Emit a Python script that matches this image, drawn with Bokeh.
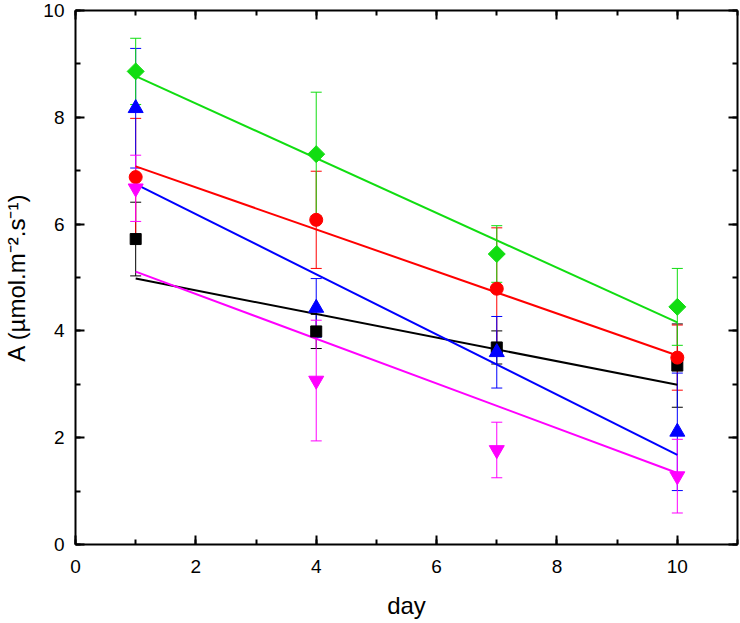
import numpy as np
from bokeh.plotting import figure
from bokeh.models import (ColumnDataSource, Whisker, TeeHead, LinearAxis,
                          SingleIntervalTicker, Range1d, CustomJSTickFormatter)
from bokeh.embed import file_html
from bokeh.resources import INLINE

# ---- data ----
days = [1, 4, 7, 10]

black_y = [5.72, 3.99, 3.69, 3.35]
black_err = [0.69, 0.32, 0.31, 0.78]
red_y = [6.88, 6.08, 4.79, 3.50]
red_err = [1.10, 0.91, 1.14, 0.61]
blue_y = [8.17, 4.43, 3.60, 2.11]
blue_err = [1.12, 0.55, 0.67, 1.10]
green_y = [8.86, 7.31, 5.44, 4.45]
green_err = [0.62, 1.16, 0.53, 0.72]
magenta_y = [6.67, 3.07, 1.77, 1.28]
magenta_err = [0.62, 1.13, 0.52, 0.69]

# fitted line end values at day 1 and day 10
fit_days = [1, 10]
black_fit = [4.98, 2.99]
red_fit = [7.08, 3.54]
blue_fit = [6.75, 1.68]
green_fit = [8.77, 4.16]
magenta_fit = [5.11, 1.34]

FONT = "Liberation Sans"

p = figure(width=740, height=623, output_backend="svg", toolbar_location=None,
           x_range=Range1d(0, 11), y_range=Range1d(0, 10),
           min_border_left=74, min_border_right=3, min_border_top=10,
           min_border_bottom=79)
p.outline_line_color = None
p.grid.visible = False
p.background_fill_color = "white"

series = [
    ("black", black_y, black_err, black_fit, "square", 11, 0.0),
    ("#ff0000", red_y, red_err, red_fit, "circle", 13, 0.0),
    ("#0000ff", blue_y, blue_err, blue_fit, "triangle", 15, 0.0),
    ("#11dd11", green_y, green_err, green_fit, "square", 12, np.pi / 4),
    ("#ff00ff", magenta_y, magenta_err, magenta_fit, "inverted_triangle", 15, 0.0),
]

# fit lines
for color, ys, errs, fit, marker, size, ang in series:
    p.line(fit_days, fit, line_color=color, line_width=2)

# error bars
for color, ys, errs, fit, marker, size, ang in series:
    src = ColumnDataSource(dict(
        x=days,
        lower=[y - e for y, e in zip(ys, errs)],
        upper=[y + e for y, e in zip(ys, errs)],
    ))
    w = Whisker(base="x", lower="lower", upper="upper", source=src,
                line_color=color, line_width=1,
                lower_head=TeeHead(size=11, line_color=color, line_width=1),
                upper_head=TeeHead(size=11, line_color=color, line_width=1))
    p.add_layout(w)

# markers
for color, ys, errs, fit, marker, size, ang in series:
    p.scatter(days, ys, marker=marker, size=size, angle=ang,
              fill_color=color, line_color=color, line_width=1)


def style_axis(ax, show_labels):
    ax.axis_line_width = 2
    ax.axis_line_color = "black"
    ax.major_tick_line_width = 2
    ax.minor_tick_line_width = 2
    ax.major_tick_in = 9
    ax.major_tick_out = 0
    ax.minor_tick_in = 5
    ax.minor_tick_out = 0
    ax.major_tick_line_color = "black"
    ax.minor_tick_line_color = "black"
    if show_labels:
        ax.major_label_text_font = FONT
        ax.major_label_text_font_size = "19px"
        ax.major_label_text_color = "black"
        ax.axis_label_text_font = FONT
        ax.axis_label_text_font_size = "24px"
        ax.axis_label_text_font_style = "normal"
        ax.axis_label_text_color = "black"
    else:
        ax.formatter = CustomJSTickFormatter(code="return ''")
        ax.major_label_standoff = 0


xa = p.xaxis[0]
xa.ticker = SingleIntervalTicker(interval=2, num_minor_ticks=2)
xa.axis_label = "day"
style_axis(xa, True)
xa.major_label_standoff = 15
xa.axis_label_standoff = 16

ya = p.yaxis[0]
ya.ticker = SingleIntervalTicker(interval=2, num_minor_ticks=2)
ya.axis_label = "A (µmol.m⁻².s⁻¹)"
style_axis(ya, True)
ya.major_label_standoff = 11
ya.axis_label_standoff = 10

top = LinearAxis(ticker=SingleIntervalTicker(interval=2, num_minor_ticks=2))
style_axis(top, False)
p.add_layout(top, "above")
right = LinearAxis(ticker=SingleIntervalTicker(interval=2, num_minor_ticks=2))
style_axis(right, False)
p.add_layout(right, "right")

open("out.html", "w").write(file_html(p, INLINE))
